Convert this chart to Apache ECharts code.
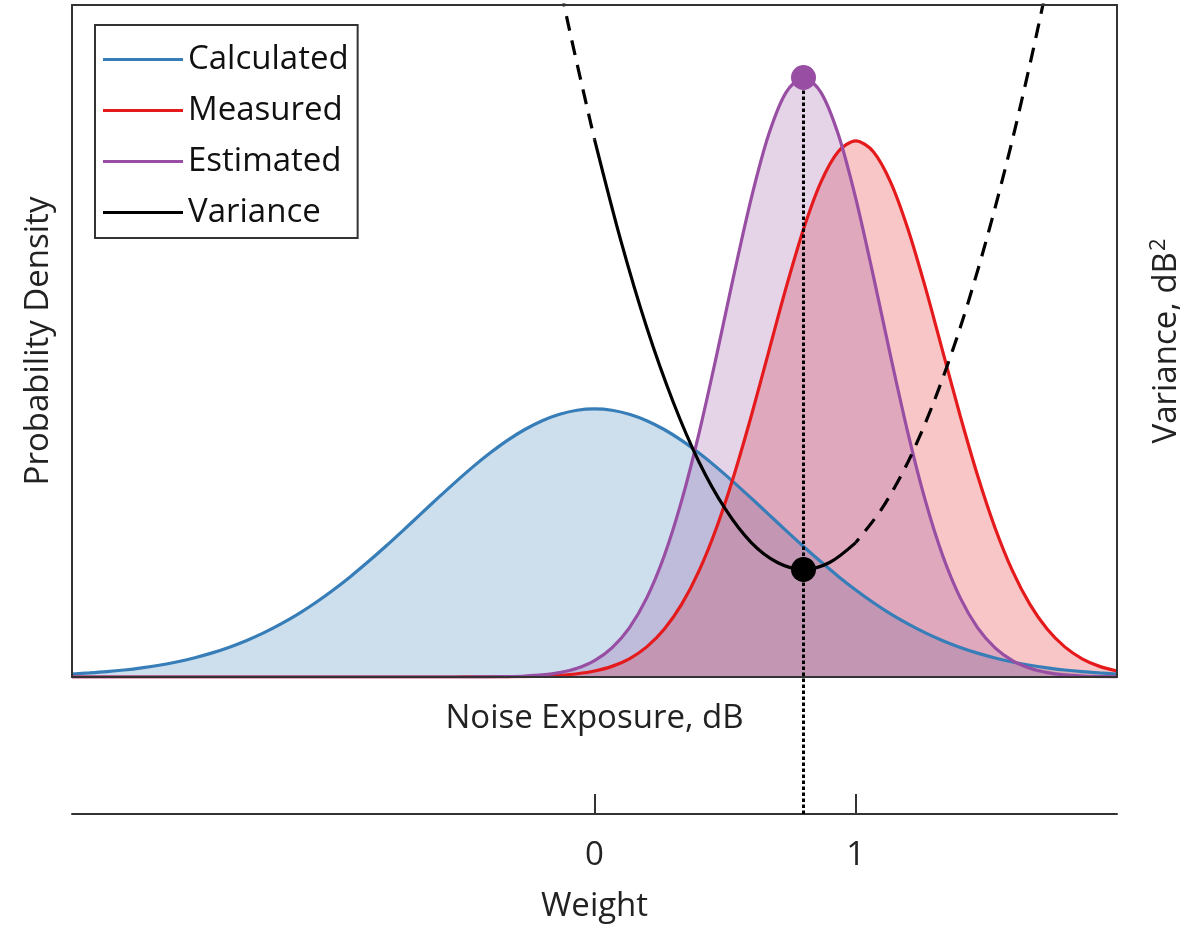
<!DOCTYPE html>
<html>
<head>
<meta charset="utf-8">
<script src="https://cdn.jsdelivr.net/npm/echarts@6/dist/echarts.min.js"></script>
<style>
  html, body { margin: 0; padding: 0; background: #fff; }
  #chart { width: 1198px; height: 928px; }
</style>
</head>
<body>
<div id="chart"></div>
<script>
// Noise exposure grid (dB, relative to the calculated mean), step 0.1 dB
const noiseDb = Array.from({ length: 61 }, (_, i) => +(-3 + i * 0.1).toFixed(1));

// Probability densities sampled on noiseDb
const calculated = [
  0.0044, 0.0060, 0.0079, 0.0104, 0.0136, 0.0175, 0.0224, 0.0283, 0.0355, 0.0440,
  0.0540, 0.0656, 0.0790, 0.0940, 0.1109, 0.1295, 0.1497, 0.1714, 0.1942, 0.2179,
  0.2420, 0.2661, 0.2897, 0.3123, 0.3332, 0.3521, 0.3683, 0.3814, 0.3910, 0.3970,
  0.3989,
  0.3970, 0.3910, 0.3814, 0.3683, 0.3521, 0.3332, 0.3123, 0.2897, 0.2661, 0.2420,
  0.2179, 0.1942, 0.1714, 0.1497, 0.1295, 0.1109, 0.0940, 0.0790, 0.0656, 0.0540,
  0.0440, 0.0355, 0.0283, 0.0224, 0.0175, 0.0136, 0.0104, 0.0079, 0.0060, 0.0044
];
const measured = [
  0, 0, 0, 0, 0, 0, 0, 0, 0, 0,
  0, 0, 0, 0, 0, 0, 0, 0, 0, 0,
  0, 0, 0, 0.0001, 0.0001, 0.0003, 0.0006, 0.0012, 0.0025, 0.0048,
  0.0089, 0.0158, 0.0271, 0.0448, 0.0710, 0.1080, 0.1579, 0.2218, 0.2995, 0.3884,
  0.4839, 0.5794, 0.6664, 0.7365, 0.7821, 0.7979, 0.7821, 0.7365, 0.6664, 0.5794,
  0.4839, 0.3884, 0.2995, 0.2218, 0.1579, 0.1080, 0.0710, 0.0448, 0.0271, 0.0158,
  0.0089
];
const estimated = [
  0, 0, 0, 0, 0, 0, 0, 0, 0, 0,
  0, 0, 0, 0, 0, 0, 0, 0, 0, 0,
  0, 0, 0, 0.0001, 0.0003, 0.0007, 0.0015, 0.0032, 0.0066, 0.0130,
  0.0244, 0.0434, 0.0732, 0.1178, 0.1801, 0.2621, 0.3627, 0.4775, 0.5980, 0.7123,
  0.8072, 0.8701, 0.8921, 0.8701, 0.8072, 0.7123, 0.5980, 0.4775, 0.3627, 0.2621,
  0.1801, 0.1178, 0.0732, 0.0434, 0.0244, 0.0130, 0.0066, 0.0032, 0.0015, 0.0007,
  0.0003
];

// Variance of the weighted estimate against the weight
const weights  = [-0.2, -0.1, 0.0, 0.1, 0.2, 0.3, 0.4, 0.5, 0.6, 0.7, 0.8,
                   0.9, 1.0, 1.1, 1.2, 1.3, 1.4, 1.5, 1.6, 1.7, 1.8];
const variance = [1.450, 1.213, 1.000, 0.813, 0.650, 0.513, 0.400, 0.313, 0.250, 0.213, 0.200,
                  0.213, 0.250, 0.313, 0.400, 0.513, 0.650, 0.813, 1.000, 1.213, 1.450];

const optimalWeight = 0.8;
const estimatedPeak = 0.8921;
const minVariance = 0.200;
const weightTicks = [0, 1];

const seriesNames = ['Calculated', 'Measured', 'Estimated', 'Variance'];
const FONT = 'Open Sans';
const FS = 33;
const TEXT = '#222';
const FRAME = '#333';

const pairs = (xs, ys) => xs.map((x, i) => [x, ys[i]]);
const varianceBetween = (lo, hi) =>
  weights.map((w, i) => [w, variance[i]]).filter(p => p[0] >= lo - 1e-9 && p[0] <= hi + 1e-9);

// Lower grid spans down to the weight axis; its y range keeps density 0 aligned with the frame bottom
const upperH = 672, fullH = 813;
const lowerYMin = -(fullH - upperH) / upperH;

function density(name, values, color, fill) {
  return {
    name, type: 'line', xAxisIndex: 0, yAxisIndex: 0,
    data: pairs(noiseDb, values),
    smooth: 0.3, showSymbol: false, color,
    lineStyle: { color, width: 3.2 },
    areaStyle: { color: fill, opacity: 1 },
    z: 2
  };
}

const hiddenAxisParts = {
  axisTick: { show: false }, axisLabel: { show: false }, splitLine: { show: false }
};
const frameLine = { show: true, onZero: false, lineStyle: { color: FRAME, width: 2 } };

const option = {
  animation: false,
  backgroundColor: '#fff',
  textStyle: { fontFamily: FONT },
  grid: [
    { left: 72, top: 5, width: 1045, height: upperH, show: false },
    { left: 72, top: 5, width: 1045, height: fullH, show: false }
  ],
  legend: {
    data: seriesNames,
    orient: 'vertical',
    left: 95, top: 25,
    icon: 'rect',
    itemWidth: 80, itemHeight: 3,
    itemGap: 18,
    padding: [18, 9, 9, 8],
    borderColor: FRAME, borderWidth: 2,
    backgroundColor: '#fff',
    textStyle: { fontFamily: FONT, fontSize: FS, color: '#111', lineHeight: 30 }
  },
  xAxis: [
    {
      gridIndex: 0, type: 'value', min: -3, max: 3, position: 'bottom',
      name: 'Noise Exposure, dB', nameLocation: 'middle', nameGap: 25,
      nameTextStyle: { fontFamily: FONT, fontSize: FS, color: TEXT },
      axisLine: frameLine, z: 10, ...hiddenAxisParts
    },
    {
      gridIndex: 0, type: 'value', min: -2, max: 2, position: 'top',
      axisLine: frameLine, z: 10, ...hiddenAxisParts
    },
    {
      gridIndex: 1, type: 'value', min: -2, max: 2, position: 'bottom',
      name: 'Weight', nameLocation: 'middle', nameGap: 76,
      nameTextStyle: { fontFamily: FONT, fontSize: FS, color: TEXT },
      axisLine: { show: true, onZero: false, lineStyle: { color: FRAME, width: 2 } },
      axisTick: { show: true, inside: true, length: 20, customValues: weightTicks,
                  lineStyle: { color: FRAME, width: 2 } },
      axisLabel: { show: true, customValues: weightTicks, margin: 25,
                   fontFamily: FONT, fontSize: FS, color: TEXT },
      splitLine: { show: false }
    }
  ],
  yAxis: [
    {
      gridIndex: 0, type: 'value', min: 0, max: 1, position: 'left',
      name: 'Probability Density', nameLocation: 'middle', nameGap: 17, nameRotate: 90,
      nameTextStyle: { fontFamily: FONT, fontSize: FS, color: TEXT },
      axisLine: frameLine, z: 10, ...hiddenAxisParts
    },
    {
      gridIndex: 0, type: 'value', min: 0, max: 1.25, position: 'right',
      name: '{v|Variance, dB}{s|2}', nameLocation: 'middle', nameGap: 31, nameRotate: 90,
      nameTextStyle: {
        fontFamily: FONT, fontSize: FS, color: TEXT,
        rich: {
          v: { fontFamily: FONT, fontSize: FS, color: TEXT },
          s: { fontFamily: FONT, fontSize: 22, color: TEXT, verticalAlign: 'top', padding: [0, 0, 16, 1] }
        }
      },
      axisLine: frameLine, z: 10, ...hiddenAxisParts
    },
    {
      gridIndex: 1, type: 'value', min: lowerYMin, max: 1, show: false
    }
  ],
  series: [
    density('Calculated', calculated, '#377eb8', 'rgba(55,126,184,0.25)'),
    density('Measured', measured, '#e41a1c', 'rgba(228,26,28,0.25)'),
    density('Estimated', estimated, '#984ea3', 'rgba(152,78,163,0.25)'),
    {
      name: 'Variance', type: 'line', xAxisIndex: 1, yAxisIndex: 1,
      data: varianceBetween(0, 1), smooth: 0.3, showSymbol: false, color: '#000',
      lineStyle: { color: '#000', width: 3.2 }, z: 4
    },
    {
      name: 'Variance beyond', type: 'line', xAxisIndex: 1, yAxisIndex: 1,
      data: varianceBetween(-0.2, 0), smooth: 0.3, showSymbol: false, color: '#000',
      lineStyle: { color: '#000', width: 3.2, type: [15, 10], dashOffset: 4 }, z: 4
    },
    {
      name: 'Variance beyond', type: 'line', xAxisIndex: 1, yAxisIndex: 1,
      data: varianceBetween(1, 1.8), smooth: 0.3, showSymbol: false, color: '#000',
      lineStyle: { color: '#000', width: 3.2, type: [15, 10], dashOffset: 10 }, z: 4
    },
    {
      name: 'Optimal weight', type: 'line', xAxisIndex: 2, yAxisIndex: 2,
      data: [[optimalWeight, lowerYMin], [optimalWeight, estimatedPeak]],
      showSymbol: false, silent: true, color: '#000',
      lineStyle: { color: '#000', width: 3, type: [3.5, 2.5] }, z: 5
    },
    {
      name: 'Estimated peak', type: 'scatter', xAxisIndex: 1, yAxisIndex: 0,
      data: [[optimalWeight, estimatedPeak]], symbolSize: 25,
      itemStyle: { color: '#984ea3', opacity: 1 }, z: 6
    },
    {
      name: 'Minimum variance', type: 'scatter', xAxisIndex: 1, yAxisIndex: 1,
      data: [[optimalWeight, minVariance]], symbolSize: 25,
      itemStyle: { color: '#000', opacity: 1 }, z: 6
    }
  ]
};

const chart = echarts.init(document.getElementById('chart'), null, { renderer: 'canvas' });
chart.setOption(option);
</script>
</body>
</html>
